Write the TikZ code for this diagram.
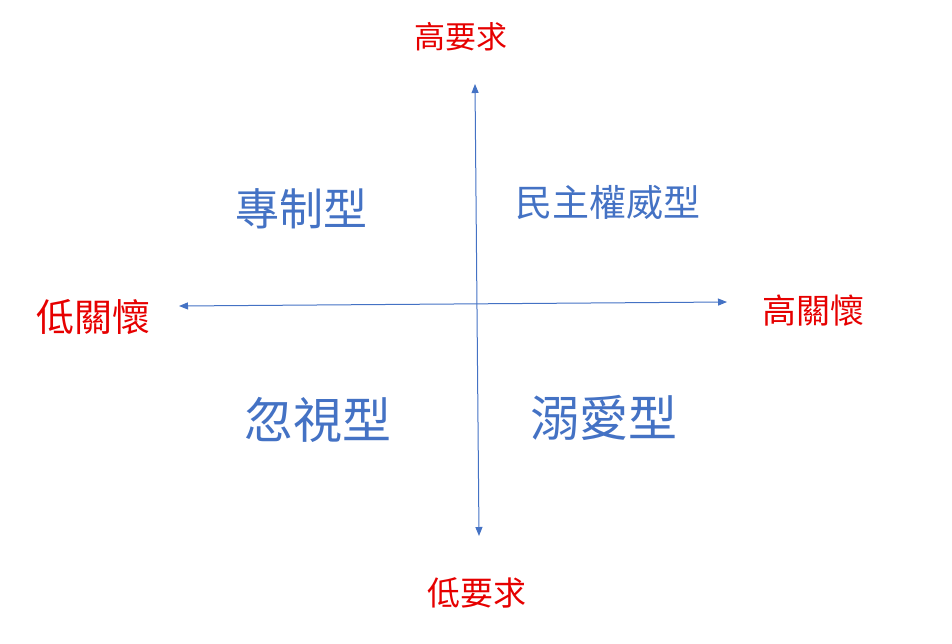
\documentclass[tikz,border=0pt]{standalone}
\usepackage{fontspec}
\newfontfamily\cjk{Noto Sans CJK TC}
\usetikzlibrary{arrows.meta}
\definecolor{axisblue}{RGB}{68,114,196}
\definecolor{labelred}{RGB}{230,0,0}
\begin{document}
\begin{tikzpicture}[
	x=1pt, y=-1pt,
	axisline/.style={draw=axisblue, line width=1pt, {Triangle[length=9pt,width=7pt]}-{Triangle[length=9pt,width=7pt]}},
	endlabel/.style={text=labelred, font=\cjk\fontsize{#1}{#1}\selectfont, inner sep=0pt},
	endlabel/.default=32,
	typelabel/.style={text=axisblue, font=\cjk\fontsize{#1}{#1}\selectfont, inner sep=0pt},
	typelabel/.default=44,
	]
	\useasboundingbox (0,0) rectangle (952,643);
	
	%Axis ends
	\coordinate (top)    at (475,84);
	\coordinate (bottom) at (479,536);
	\coordinate (west)   at (179,306);
	\coordinate (east)   at (727,302);
	
	%Axis labels
	\node[endlabel=31] (highdemand) at (461,37)  {高要求};
	\node[endlabel=33] (lowdemand)  at (477,593) {低要求};
	\node[endlabel=38] (lowcare)    at (93,317)  {低關懷};
	\node[endlabel=34] (highcare)   at (813,311) {高關懷};
	
	%Quadrants
	\node[typelabel=44] (autocratic)    at (301,209) {專制型};
	\node[typelabel=37] (authoritative) at (608,203) {民主權威型};
	\node[typelabel=49] (neglectful)    at (318,420) {忽視型};
	\node[typelabel=49] (indulgent)     at (604,418) {溺愛型};
	
	%Lines
	\draw[axisline] (bottom) -- (top);
	\draw[axisline] (west) -- (east);
	
\end{tikzpicture}
\end{document}
